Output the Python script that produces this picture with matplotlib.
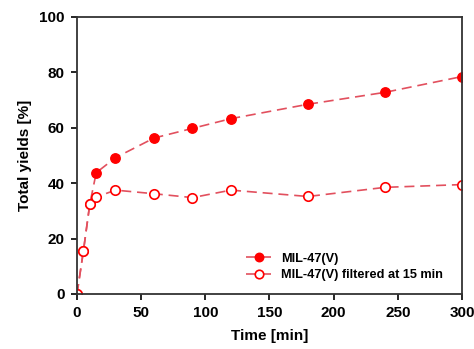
import matplotlib.pyplot as plt

plt.rcParams['font.family'] = ['Liberation Sans', 'DejaVu Sans']
plt.rcParams['font.weight'] = 'bold'

# Donnees
t_mil = [0, 5, 10, 15, 30, 60, 90, 120, 180, 240, 300]
y_mil = [0, 15.5, 32.5, 43.8, 49.2, 56.3, 59.8, 63.3, 68.5, 72.8, 78.5]

t_filt = [0, 5, 10, 15, 30, 60, 90, 120, 180, 240, 300]
y_filt = [0, 15.5, 32.5, 35.0, 37.5, 36.2, 34.8, 37.5, 35.2, 38.5, 39.5]

line_col = '#e2505e'
mark_col = '#ff0000'

fig = plt.figure(figsize=(4.74, 3.49), dpi=100)
ax = fig.add_axes([0.1624, 0.1576, 0.8123, 0.7937])

ax.plot(t_mil, y_mil, '--', color=line_col, lw=1.2, dashes=(6, 3.5),
        marker='o', ms=6.8, mfc=mark_col, mec=mark_col, label='MIL-47(V)')
ax.plot(t_filt, y_filt, '--', color=line_col, lw=1.2, dashes=(6, 3.5),
        marker='o', ms=6.8, mfc='white', mec=mark_col, mew=1.2,
        label='MIL-47(V) filtered at 15 min')

ax.set_xlim(0, 300)
ax.set_ylim(0, 100)
ax.set_xticks([0, 50, 100, 150, 200, 250, 300])
ax.set_yticks([0, 20, 40, 60, 80, 100])
ax.tick_params(direction='out', length=4, width=1.2, labelsize=11, pad=5)
for s in ax.spines.values():
    s.set_linewidth(1.3)
    s.set_color('#333333')
for lab in ax.get_xticklabels() + ax.get_yticklabels():
    lab.set_fontweight('bold')

ax.set_xlabel('Time [min]', fontsize=11, fontweight='bold', labelpad=6)
ax.set_ylabel('Total yields [%]', fontsize=11, fontweight='bold', labelpad=5)

leg = ax.legend(loc='lower right', bbox_to_anchor=(0.98, 0.005), frameon=False,
                fontsize=9.2, handlelength=1.9, handletextpad=0.8,
                labelspacing=0.35, markerscale=0.9)
for txt in leg.get_texts():
    txt.set_fontweight('bold')

fig.savefig('out.png', dpi=100)
